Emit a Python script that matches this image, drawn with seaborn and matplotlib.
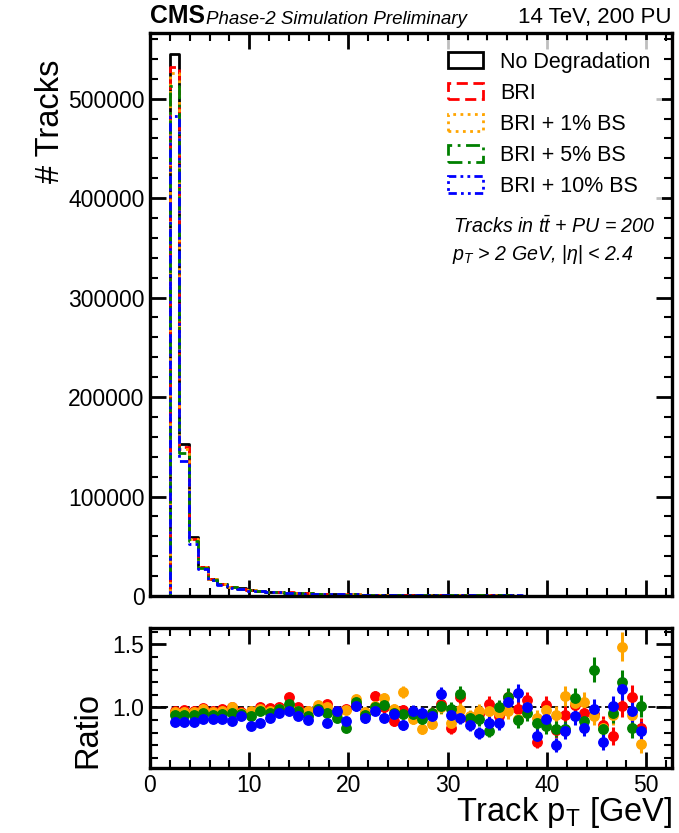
import numpy as np
import pandas as pd
import matplotlib
matplotlib.use("Agg")
import matplotlib.pyplot as plt
from matplotlib.patches import Patch
from matplotlib.ticker import MultipleLocator, FormatStrFormatter, FuncFormatter
import seaborn as sns

# ---------------- data ----------------
bin_low = 2.0
bin_high = 50.0
n_bins = 50

nominal_counts = [545000, 153000, 59000, 29500, 17500, 12500, 9400, 7600, 6200, 5200,
                  4500, 3900, 3400, 3000, 2700, 2400, 2150, 1950, 1780, 1620,
                  1480, 1360, 1250, 1150, 1060, 980, 910, 850, 790, 740,
                  690, 650, 610, 575, 540, 510, 480, 455, 430, 408,
                  388, 368, 350, 334, 318, 303, 290, 277, 265, 254]

ratio_bri = [0.975, 0.98, 0.975, 0.995, 0.975, 0.985, 1.0, 0.965, 0.965, 1.0,
             0.995, 1.0, 1.085, 1.0, 0.97, 0.99, 1.03, 0.97, 0.99, 1.03,
             0.957, 1.09, 1.0, 0.895, 0.98, 0.96, 0.93, 0.96, 1.03, 0.835,
             1.08, 0.90, 0.95, 1.03, 0.93, 1.08, 0.99, 1.056, 0.73, 1.02,
             0.82, 0.944, 1.016, 0.96, 0.95, 0.857, 0.775, 1.01, 1.083, 0.84]

ratio_bs1 = [0.965, 0.965, 0.965, 0.985, 0.965, 0.975, 1.005, 0.96, 0.97, 0.99,
             0.97, 0.985, 1.015, 0.975, 0.975, 1.02, 1.0, 0.96, 0.98, 1.065,
             0.962, 1.015, 1.075, 0.99, 1.125, 0.91, 0.83, 0.87, 1.0, 0.88,
             0.98, 0.93, 0.97, 0.975, 0.96, 0.97, 0.91, 1.0, 0.917, 0.976,
             0.94, 1.09, 1.035, 1.04, 0.935, 0.84, 0.94, 1.48, 0.94, 0.707]

ratio_bs5 = [0.94, 0.94, 0.94, 0.955, 0.94, 0.95, 0.955, 0.95, 0.93, 0.975,
             0.955, 0.99, 1.03, 0.97, 0.935, 0.985, 0.96, 0.92, 0.835, 1.043,
             0.94, 1.0, 1.02, 0.957, 0.95, 0.945, 0.905, 0.955, 1.01, 0.99,
             1.11, 0.917, 0.905, 0.815, 1.0, 1.085, 0.90, 0.96, 0.875, 0.85,
             0.83, 0.83, 1.072, 0.89, 1.30, 0.833, 0.957, 1.20, 0.838, 1.01]

ratio_bs10 = [0.885, 0.885, 0.885, 0.91, 0.905, 0.91, 0.89, 0.93, 0.85, 0.88,
              0.92, 0.955, 0.97, 0.93, 0.90, 0.97, 0.875, 0.97, 0.895, 1.01,
              0.914, 0.975, 0.92, 0.95, 0.86, 0.975, 0.955, 0.935, 1.105, 0.94,
              0.92, 0.86, 0.80, 0.88, 0.88, 1.04, 1.115, 1.0, 0.775, 0.905,
              0.70, 0.815, 0.93, 0.838, 0.99, 0.725, 1.01, 1.15, 0.97, 0.81]

labels = ["No Degradation", "BRI", "BRI + 1% BS", "BRI + 5% BS", "BRI + 10% BS"]
colors = ["black", "#ff0000", "#ffa500", "#008000", "#0000ff"]
linestyles = ["-", (0, (4, 2)), (0, (1, 1.6)), (0, (5, 2, 1, 2)), (0, (3, 1.5, 1, 1.5, 1, 1.5))]

# ---------------- derived ----------------
edges = np.linspace(bin_low, bin_high, n_bins + 1)
width = edges[1] - edges[0]
centers = 0.5 * (edges[:-1] + edges[1:])
edges_ext = [float(e) for e in np.concatenate([[bin_low - width], edges, [bin_high + width]])]
nominal = np.array(nominal_counts, dtype=float)
ratios = [np.array(r) for r in (ratio_bri, ratio_bs1, ratio_bs5, ratio_bs10)]
series_counts = [nominal] + [nominal * r for r in ratios]

rows = []
for lab, cnt in zip(labels, series_counts):
    for c, w in zip(centers, cnt):
        rows.append({"pt": c, "w": w, "sample": lab})
df = pd.DataFrame(rows)

# ---------------- style ----------------
sns.set_style("ticks")
plt.rcParams["font.family"] = ["Liberation Sans", "DejaVu Sans"]
plt.rcParams["mathtext.fontset"] = "custom"
plt.rcParams["mathtext.rm"] = "Liberation Sans"
plt.rcParams["mathtext.it"] = "Liberation Sans:italic"
plt.rcParams["mathtext.bf"] = "Liberation Sans:bold"
for key in ["text.color", "axes.labelcolor", "xtick.color", "ytick.color", "axes.edgecolor"]:
    plt.rcParams[key] = "black"

W, H = 679, 833
fig = plt.figure(figsize=(W / 100, H / 100), dpi=100)
ax = fig.add_axes([150 / W, 1 - 596 / H, 522 / W, 563 / H])
axr = fig.add_axes([150 / W, 1 - 768 / H, 522 / W, 140 / H])

for lab, col, ls in zip(labels, colors, linestyles):
    sub = df[df["sample"] == lab]
    sns.histplot(data=sub, x="pt", weights="w", bins=edges_ext, element="step",
                 fill=False, color=col, linestyle=ls, linewidth=2.0, ax=ax)

xmax = 52.6
ax.set_xlim(0, xmax)
ax.set_ylim(0, 566000)
axr.set_xlim(0, xmax)
axr.set_ylim(0.52, 1.63)

# ratio panel
axr.axhline(1.0, color="black", linestyle=(0, (4, 2)), linewidth=1.3, zorder=1)
for r, col in zip(ratios, colors[1:]):
    nd = nominal * r
    err = r * np.sqrt(1.0 / nd + 1.0 / nominal)
    axr.errorbar(centers, r, yerr=err, fmt="o", color=col, markersize=6.8,
                 elinewidth=2.2, capsize=0, zorder=3)

# ticks and frame
for a in (ax, axr):
    a.xaxis.set_major_locator(MultipleLocator(10))
    a.xaxis.set_minor_locator(MultipleLocator(2))
    a.tick_params(which="both", direction="in", top=True, right=True,
                  labelsize=16.5, pad=4, colors="black")
    a.tick_params(which="major", length=11.5, width=2.0)
    a.tick_params(which="minor", length=5.8, width=1.5)
    for s in a.spines.values():
        s.set_linewidth(2.4)
        s.set_color("black")
ax.yaxis.set_major_locator(MultipleLocator(100000))
ax.yaxis.set_minor_locator(MultipleLocator(20000))
ax.yaxis.set_major_formatter(FuncFormatter(lambda v, p: f"{int(round(v))}"))
ax.tick_params(labelbottom=False)
axr.yaxis.set_major_locator(MultipleLocator(0.5))
axr.yaxis.set_minor_locator(MultipleLocator(0.1))
axr.yaxis.set_major_formatter(FormatStrFormatter("%.1f"))

ax.set_xlabel("")
ax.set_ylabel("# Tracks", fontsize=23.5, loc="top")
ax.yaxis.set_label_coords(-0.16, 0.952)
axr.set_ylabel("Ratio", fontsize=23.5, loc="bottom")
axr.yaxis.set_label_coords(-0.09, 0.0)
axr.set_xlabel("Track p$_{\\mathrm{T}}$ [GeV]", fontsize=23.5, loc="right", labelpad=-1)

# legend
handles = [Patch(facecolor="none", edgecolor=c, linestyle=ls, linewidth=2.0)
           for c, ls in zip(colors, linestyles)]
leg = ax.legend(handles, labels, loc="upper right", bbox_to_anchor=(0.981, 0.988),
                fontsize=15.5, frameon=True, facecolor="white", edgecolor="none",
                framealpha=0.75, handlelength=1.6, handleheight=0.8,
                handletextpad=0.8, labelspacing=0.47, borderpad=0.55, borderaxespad=0)

ax.text(0.580, 0.657, "Tracks in $t\\bar{t}$ + PU = 200", transform=ax.transAxes,
        ha="left", va="center", fontsize=14.1, style="italic")
ax.text(0.578, 0.607, "$p_T$ > 2 GeV, $|\\eta|$ < 2.4", transform=ax.transAxes,
        ha="left", va="center", fontsize=14.1, style="italic")

# header
ax.text(0.0, 1.008, "CMS", transform=ax.transAxes, ha="left", va="bottom",
        fontsize=17.8, fontweight="bold")
ax.text(0.107, 1.008, "Phase-2 Simulation Preliminary", transform=ax.transAxes,
        ha="left", va="bottom", fontsize=13.5, style="italic")
ax.text(1.0, 1.008, "14 TeV, 200 PU", transform=ax.transAxes, ha="right",
        va="bottom", fontsize=16)

fig.savefig("out.png", dpi=100)
